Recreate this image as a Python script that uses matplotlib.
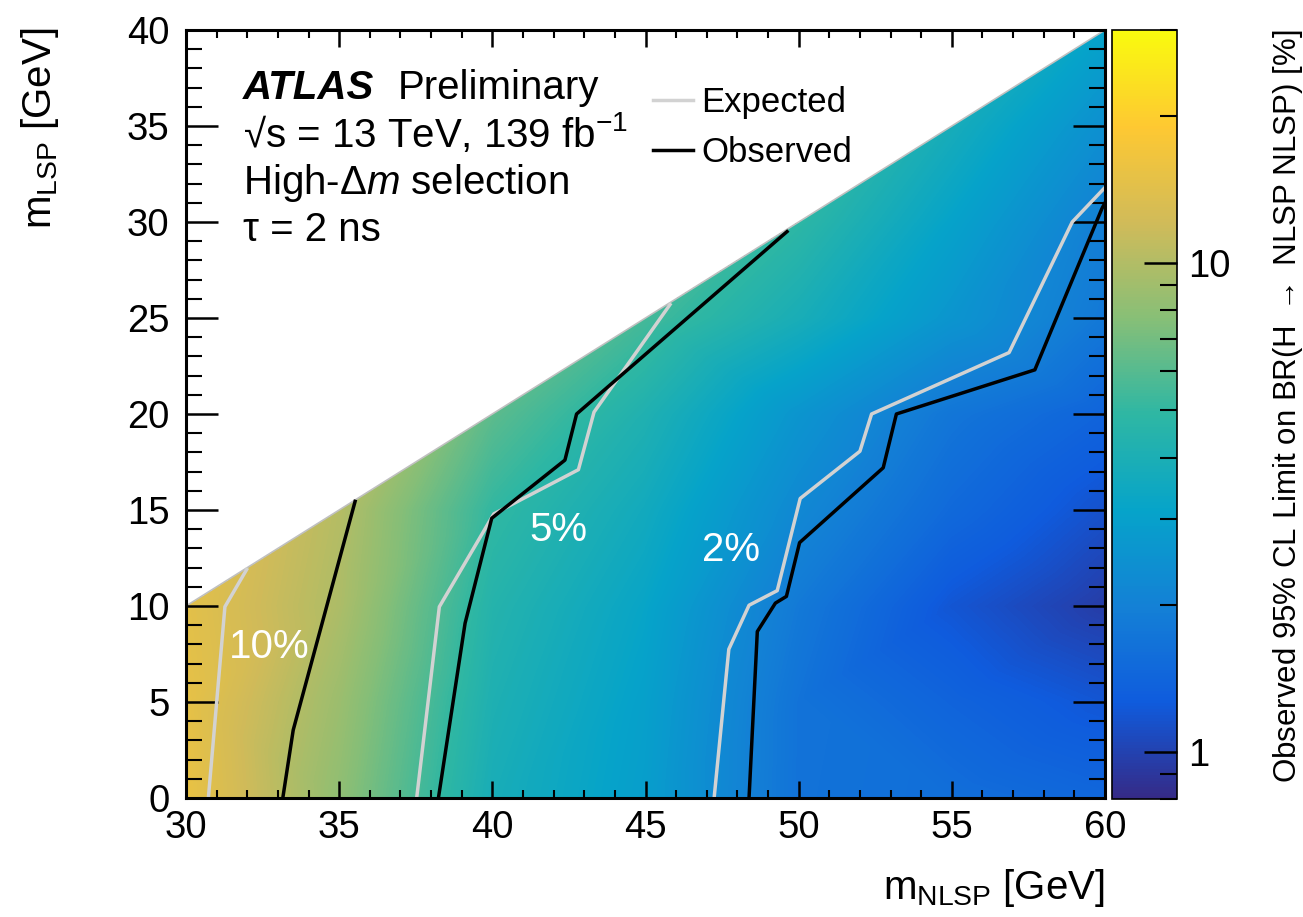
import numpy as np
import matplotlib
matplotlib.use("Agg")
import matplotlib.pyplot as plt
import matplotlib.tri as mtri
from matplotlib.colors import LinearSegmentedColormap, LogNorm
from matplotlib.ticker import MultipleLocator, LogLocator, FormatStrFormatter, NullFormatter
from matplotlib.lines import Line2D

plt.rcParams['font.family'] = ['Liberation Sans', 'DejaVu Sans']
plt.rcParams['mathtext.fontset'] = 'custom'
plt.rcParams['mathtext.rm'] = 'Liberation Sans'
plt.rcParams['mathtext.it'] = 'Liberation Sans:italic'
plt.rcParams['mathtext.bf'] = 'Liberation Sans:bold'

# signal grid (GeV) and observed limit on BR in %
m_nlsp = [30, 35, 40, 45, 50, 55, 60]
m_lsp = [0, 5, 10, 15, 20, 25, 30, 35, 40]
nan = np.nan
obs_limit = [
    [15.5, 8.1, 3.86, 2.9, 1.68, 1.6, 1.45],   # m_lsp = 0
    [15.0, 8.7, 4.13, 3.0, 1.69, 1.4, 1.2],    # 5
    [14.5, 9.7, 4.45, 3.2, 1.83, 1.2, 0.95],   # 10
    [nan, 10.2, 5.0, 3.6, 2.2, 1.5, 1.15],     # 15
    [nan, nan, 6.2, 4.2, 2.6, 1.75, 1.4],      # 20
    [nan, nan, nan, 5.5, 3.9, 2.6, 1.8],       # 25
    [nan, nan, nan, nan, 4.85, 3.1, 1.95],     # 30
    [nan, nan, nan, nan, nan, 3.8, 2.4],       # 35
    [nan, nan, nan, nan, nan, nan, 3.1],       # 40
]

# limit contours
exp_10_x = [30.73, 31.27, 31.98]
exp_10_y = [0, 9.96, 11.9]
obs_10_x = [33.16, 33.50, 35.52]
obs_10_y = [0, 3.54, 15.45]
exp_5_x = [37.53, 38.27, 40.05, 42.81, 43.32, 45.80]
exp_5_y = [0, 9.96, 14.8, 17.1, 20.1, 25.7]
obs_5_x = [38.24, 39.11, 39.98, 42.37, 42.75, 49.62]
obs_5_y = [0, 9.1, 14.57, 17.6, 20.0, 29.5]
exp_2_x = [47.24, 47.72, 48.38, 49.30, 50.05, 52.00, 52.38, 56.87, 58.93, 60.0]
exp_2_y = [0, 7.75, 10.04, 10.8, 15.6, 18.06, 20.0, 23.2, 30.0, 31.8]
obs_2_x = [48.38, 48.65, 49.24, 49.60, 50.03, 52.76, 53.19, 57.71, 59.9, 60.0]
obs_2_y = [0, 8.67, 10.15, 10.5, 13.3, 17.2, 20.0, 22.3, 30.7, 31.0]

contour_labels = ["10%", "5%", "2%"]
label_x = [32.72, 42.16, 47.78]
label_y = [7.85, 13.96, 12.9]

# ROOT kBird palette
bird = LinearSegmentedColormap.from_list("bird", [
    (0.2082, 0.1664, 0.5293), (0.0592, 0.3599, 0.8684), (0.0780, 0.5041, 0.8385),
    (0.0232, 0.6419, 0.7914), (0.1802, 0.7178, 0.6425), (0.5301, 0.7492, 0.4662),
    (0.8186, 0.7328, 0.3499), (0.9956, 0.7862, 0.1968), (0.9764, 0.9832, 0.0539)])

W, H = 1303, 917
fig = plt.figure(figsize=(W / 100, H / 100), dpi=100)
ax = fig.add_axes([186 / W, 1 - 798 / H, 919 / W, 768 / H])
cax = fig.add_axes([1112 / W, 1 - 799 / H, 65 / W, 769 / H])

# points of the grid inside the kinematic triangle
px, py, pz = [], [], []
for i, y in enumerate(m_lsp):
    for j, x in enumerate(m_nlsp):
        if not np.isnan(obs_limit[i][j]):
            px.append(x)
            py.append(y)
            pz.append(obs_limit[i][j])
tri = mtri.Triangulation(px, py)
interp = mtri.LinearTriInterpolator(tri, np.log10(pz))
xs = np.linspace(min(m_nlsp), max(m_nlsp), 920)
ys = np.linspace(min(m_lsp), max(m_lsp), 770)
X, Y = np.meshgrid(xs, ys)
Z = np.ma.power(10.0, interp(X, Y))

norm = LogNorm(vmin=0.8, vmax=30)
im = ax.imshow(Z, origin="lower", extent=(30, 60, 0, 40), aspect="auto",
               cmap=bird, norm=norm, interpolation="nearest")

# upper kinematic edge
edge_y = [max(y for i, y in enumerate(m_lsp) if not np.isnan(obs_limit[i][j]))
          for j in range(len(m_nlsp))]
ax.plot(m_nlsp, edge_y, color="#c0c0c0", lw=1.2, zorder=1)

grey = "#d2d2d2"
lw = 2.5
for xx, yy in [(exp_10_x, exp_10_y), (exp_5_x, exp_5_y), (exp_2_x, exp_2_y)]:
    ax.plot(xx, yy, color=grey, lw=lw, zorder=2)
for xx, yy in [(obs_10_x, obs_10_y), (obs_5_x, obs_5_y), (obs_2_x, obs_2_y)]:
    ax.plot(xx, yy, color="black", lw=lw, zorder=3)

for t, x, y in zip(contour_labels, label_x, label_y):
    ax.text(x, y, t, color="white", fontsize=29, ha="center", va="center")

ax.set_xlim(30, 60)
ax.set_ylim(0, 40)
ax.xaxis.set_major_locator(MultipleLocator(5))
ax.xaxis.set_minor_locator(MultipleLocator(1))
ax.yaxis.set_major_locator(MultipleLocator(5))
ax.yaxis.set_minor_locator(MultipleLocator(1))
ax.tick_params(which="both", direction="in", top=True, right=True, labelsize=27.5)
ax.tick_params(axis="x", which="major", length=12, width=1.8, pad=9)
ax.tick_params(axis="x", which="minor", length=6, width=1.5)
ax.tick_params(axis="y", which="major", length=23, width=1.8, pad=12)
ax.tick_params(axis="y", which="minor", length=11.5, width=1.5)
for s in ax.spines.values():
    s.set_linewidth(2.2)

# ATLAS label block
ax.text(0.062, 0.925, "ATLAS", transform=ax.transAxes, fontsize=29,
        fontweight="bold", style="italic", va="center")
ax.text(0.2307, 0.925, "Preliminary", transform=ax.transAxes, fontsize=29, va="center")
ax.text(0.062, 0.866, "\u221As = 13 TeV, 139 fb$^{-1}$", transform=ax.transAxes,
        fontsize=29, va="center")
ax.text(0.062, 0.801, "High-\u0394$m$ selection", transform=ax.transAxes,
        fontsize=29, va="center")
ax.text(0.062, 0.740, "\u03c4 = 2 ns", transform=ax.transAxes, fontsize=29, va="center")

handles = [Line2D([], [], color=grey, lw=lw), Line2D([], [], color="black", lw=lw)]
ax.legend(handles, ["Expected", "Observed"], loc="upper left",
          bbox_to_anchor=(0.508, 0.927), frameon=False, fontsize=25,
          handlelength=1.15, handletextpad=0.25, labelspacing=0.48,
          borderpad=0, borderaxespad=0)

fig.text(1105 / W, 1 - 888 / H, "m$_{\\rm NLSP}$ [GeV]", fontsize=29,
         ha="right", va="center")
fig.text(40 / W, 1 - 28 / H, "m$_{\\rm LSP}$ [GeV]", fontsize=29,
         rotation=90, ha="center", va="top")

cb = fig.colorbar(im, cax=cax)
cb.outline.set_linewidth(1.2)
cax.yaxis.set_major_locator(LogLocator(base=10))
cax.yaxis.set_minor_locator(LogLocator(base=10, subs=np.arange(2, 10)))
cax.yaxis.set_major_formatter(FormatStrFormatter("%g"))
cax.yaxis.set_minor_formatter(NullFormatter())
cax.tick_params(which="major", direction="in", length=24, width=1.8, labelsize=27.5, pad=8)
cax.tick_params(which="minor", direction="in", length=12, width=1.5)
fig.text(1288 / W, 1 - 30 / H, "Observed 95% CL Limit on BR(H $\\rightarrow$ NLSP NLSP) [%]",
         fontsize=22.5, rotation=90, ha="center", va="top")

fig.savefig("out.png", dpi=100)
